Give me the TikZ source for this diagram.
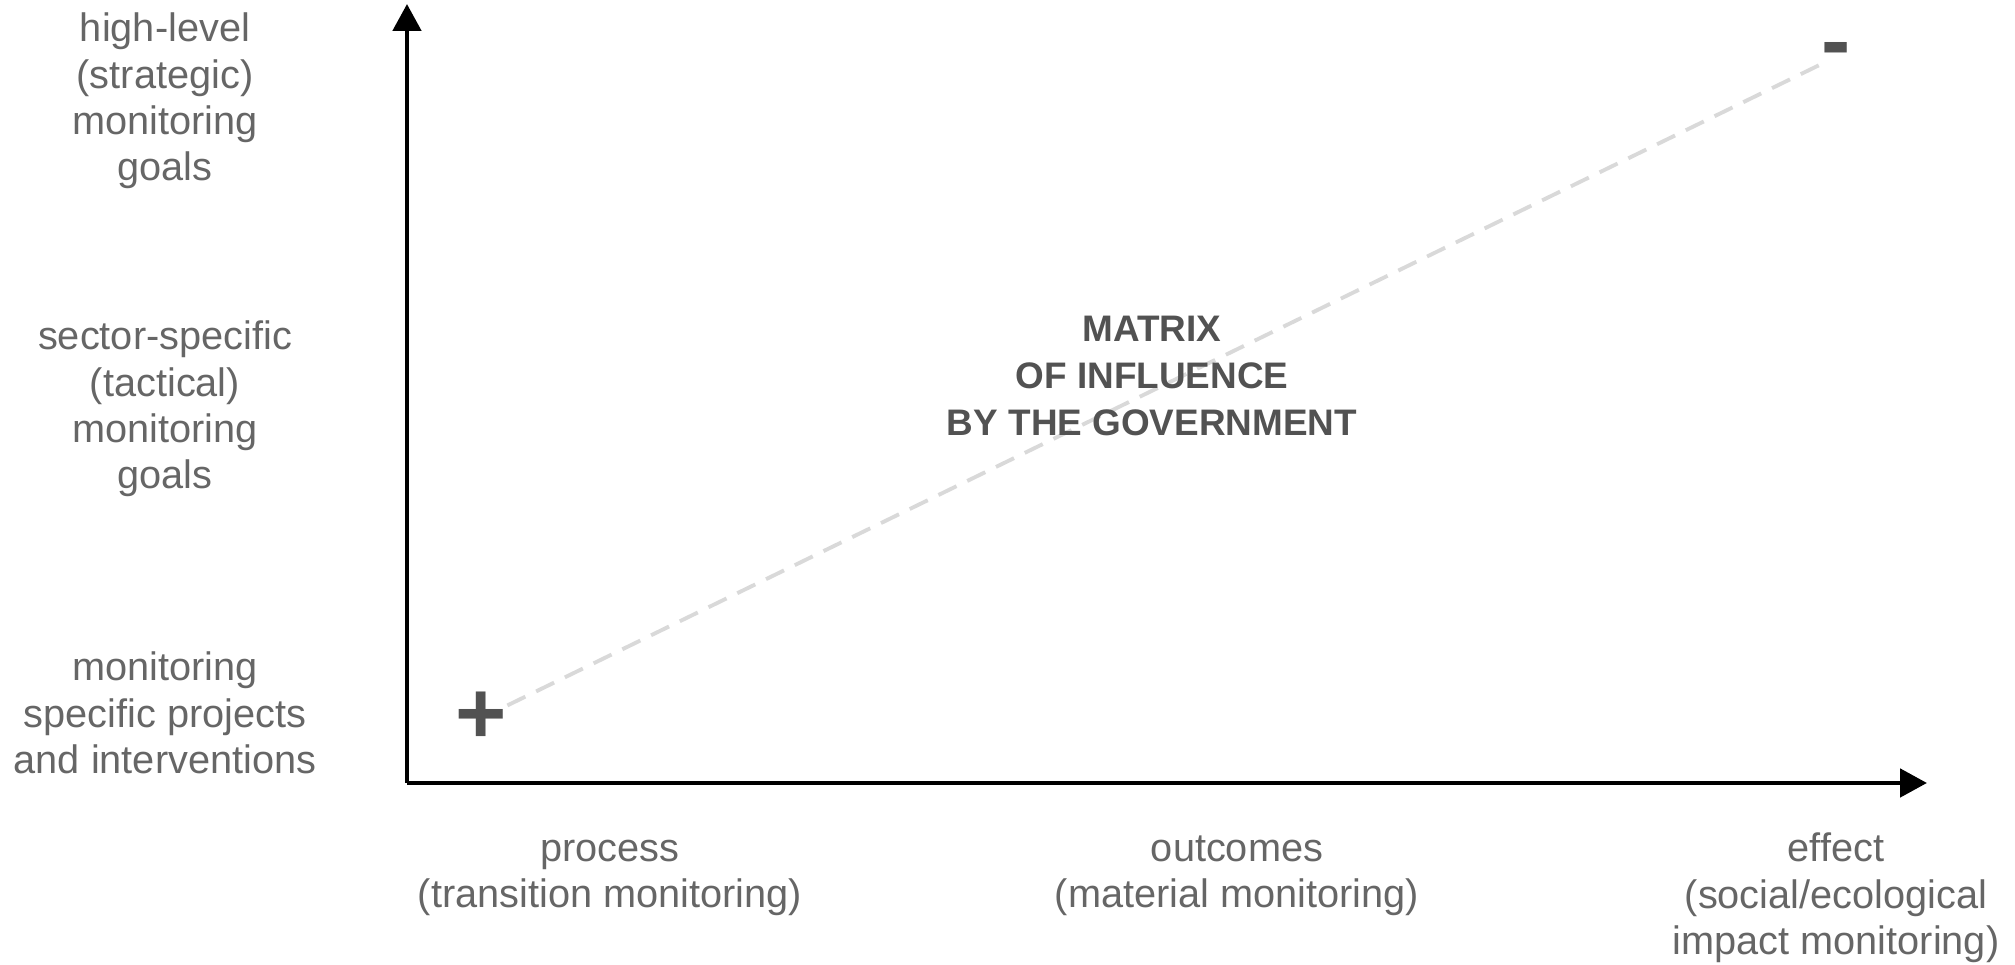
\documentclass[tikz,border=0pt]{standalone}
\usepackage{fontspec}
\setmainfont{Liberation Sans}
\usetikzlibrary{arrows.meta}

\begin{document}
\begin{tikzpicture}[every node/.style={font=\fontsize{11.3}{13.2}\selectfont, text=black!60, align=center, inner sep=0pt},
	axis/.style={line width=1.4pt, -{Triangle[length=0.27cm,width=0.28cm]}},
	sign/.style={font=\fontsize{25}{25}\selectfont\bfseries, text=black!68, anchor=base}]
	\useasboundingbox (-4.07,-1.82) rectangle (16.08,7.83);
	\coordinate (o) at (0,0);
	\coordinate (ytip) at (0,7.79);
	\coordinate (xtip) at (15.20,0);
	\draw[axis] (o) -- (ytip);
	\draw[axis] (o) -- (xtip);
	\node[sign] (plus) at (0.74,0.39) {+};
	\node[sign] (minus) at (14.29,7.12) {-};
	\draw[black!15, line width=1.1pt, dash pattern=on 5.7pt off 3.4pt] (plus) -- (minus);
	\node (high) at (-2.42,6.82) {high-level\\(strategic)\\monitoring\\goals};
	\node (sector) at (-2.42,3.74) {sector-specific\\(tactical)\\monitoring\\goals};
	\node (project) at (-2.42,0.70) {monitoring\\specific projects\\and interventions};
	\node (process) at (2.03,-0.95) {process\\(transition monitoring)};
	\node (outcome) at (8.30,-0.93) {outcomes\\(material monitoring)};
	\node (effect) at (14.29,-1.15) {effect\\(social/ecological\\impact monitoring)};
	\node[font=\fontsize{10.5}{13.4}\selectfont\bfseries, text=black!68] (matrix) at (7.45,4.07) {MATRIX\\OF INFLUENCE\\BY THE GOVERNMENT};
\end{tikzpicture}
\end{document}
